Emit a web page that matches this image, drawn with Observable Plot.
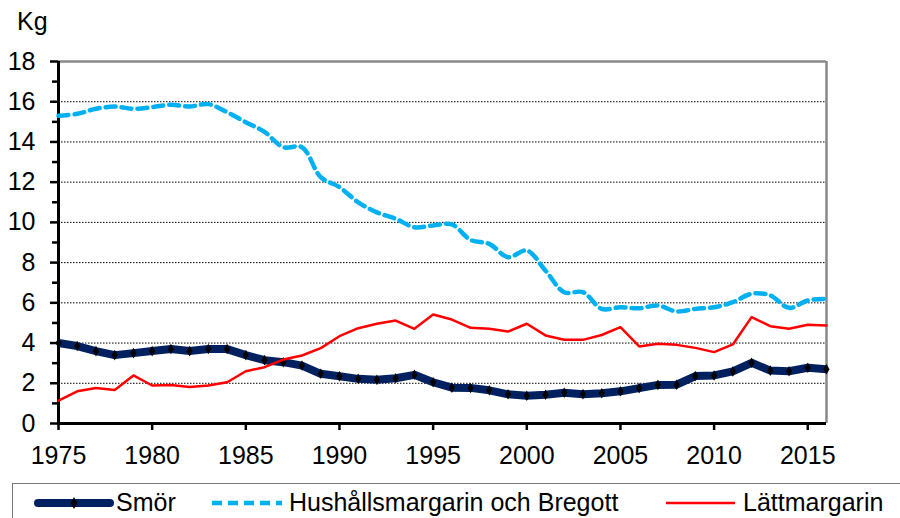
<!DOCTYPE html>
<html>
<head>
<meta charset="utf-8">
<script src="https://cdn.jsdelivr.net/npm/d3@7"></script>
<script src="https://cdn.jsdelivr.net/npm/@observablehq/plot@0.6"></script>
<style>
  body { margin: 0; background: #fff; font-family: "Liberation Sans", Arial, sans-serif; }
  #wrap { position: relative; width: 900px; height: 518px; overflow: hidden; }
  #kg { position: absolute; left: 17px; top: 9px; font-size: 25px; line-height: 25px; color: #000; }
  #legend { position: absolute; left: 12px; top: 483px; width: 1000px; height: 60px; border: 1.5px solid #777; box-sizing: border-box; }
  .lt { position: absolute; top: 490px; font-size: 25px; line-height: 25px; color: #000; white-space: nowrap; }
  .ls { position: absolute; top: 493px; }
</style>
</head>
<body>
<div id="wrap">
  <div id="chart"></div>
  <div id="kg">Kg</div>
  <div id="legend"></div>
</div>
<script>
const years = [1975,1976,1977,1978,1979,1980,1981,1982,1983,1984,1985,1986,1987,1988,1989,1990,1991,1992,1993,1994,1995,1996,1997,1998,1999,2000,2001,2002,2003,2004,2005,2006,2007,2008,2009,2010,2011,2012,2013,2014,2015,2016];
const smor = [4.0,3.85,3.6,3.4,3.5,3.6,3.7,3.6,3.7,3.7,3.4,3.15,3.05,2.88,2.47,2.35,2.22,2.17,2.25,2.42,2.05,1.78,1.77,1.65,1.45,1.38,1.43,1.53,1.46,1.5,1.6,1.76,1.92,1.93,2.36,2.39,2.59,3.02,2.63,2.6,2.77,2.7];
const hushall = [15.3,15.4,15.65,15.76,15.65,15.73,15.85,15.76,15.88,15.48,14.98,14.5,13.74,13.74,12.25,11.75,11.0,10.5,10.18,9.76,9.85,9.9,9.13,8.93,8.27,8.6,7.6,6.53,6.53,5.7,5.78,5.73,5.87,5.57,5.7,5.78,6.03,6.45,6.37,5.75,6.12,6.2];
const latt = [1.14,1.6,1.77,1.67,2.39,1.89,1.92,1.81,1.89,2.05,2.6,2.8,3.18,3.38,3.75,4.34,4.74,4.96,5.12,4.71,5.42,5.17,4.76,4.71,4.57,4.96,4.38,4.16,4.16,4.4,4.79,3.83,3.96,3.91,3.76,3.55,3.93,5.29,4.84,4.71,4.91,4.87];
const seriesNames = ["Smör", "Hushållsmargarin och Bregott", "Lättmargarin"];
const yTicks = [0,2,4,6,8,10,12,14,16,18];
const yMinorTicks = [1,3,5,7,9,11,13,15,17];
const yGrid = [2,4,6,8,10,12,14,16];
const xTicks = [1975,1980,1985,1990,1995,2000,2005,2010,2015];

const rows = (vals) => years.map((y, i) => ({year: y, value: vals[i]}));
const dSmor = rows(smor), dHush = rows(hushall), dLatt = rows(latt);

const chart = Plot.plot({
  width: 900,
  height: 470,
  marginLeft: 58,
  marginRight: 74,
  marginTop: 61,
  marginBottom: 47,
  style: {fontFamily: '"Liberation Sans", Arial, sans-serif', fontSize: "25px", color: "#000", background: "#fff"},
  x: {domain: [1975, 2016]},
  y: {domain: [0, 18]},
  marks: [
    Plot.ruleY(yGrid, {stroke: "#000", strokeWidth: 1, strokeDasharray: "1.5,1.5"}),
    Plot.ruleY([18], {stroke: "#888", strokeWidth: 2.5}),
    Plot.ruleX([2016], {stroke: "#888", strokeWidth: 2.5}),
    Plot.axisY({ticks: yTicks, tickSize: 8, tickPadding: 15, fontSize: 25, strokeWidth: 2.5, label: null, tickFormat: d => d}),
    Plot.axisY({ticks: yMinorTicks, tickSize: 6, text: null, strokeWidth: 2.5, label: null}),
    Plot.axisX({ticks: xTicks, tickSize: 7, tickPadding: 16, fontSize: 25, strokeWidth: 2.5, label: null, tickFormat: d => String(d)}),
    Plot.ruleX([1975], {stroke: "#000", strokeWidth: 3}),
    Plot.ruleY([0], {stroke: "#000", strokeWidth: 3}),
    Plot.line(dSmor, {x: "year", y: "value", stroke: "#002060", strokeWidth: 8, strokeLinejoin: "round", strokeLinecap: "butt"}),
    Plot.dot(dSmor, {x: "year", y: "value", symbol: "diamond", r: 3.2, fill: "#000", stroke: "none"}),
    Plot.line(dHush, {x: "year", y: "value", stroke: "#00B0F0", strokeWidth: 4.5, strokeDasharray: "10,6", curve: "catmull-rom"}),
    Plot.line(dLatt, {x: "year", y: "value", stroke: "#FF0000", strokeWidth: 2.5, strokeLinejoin: "round"})
  ]
});
document.getElementById("chart").appendChild(chart);

// Legend
const wrap = document.getElementById("wrap");
const legendItems = [
  {name: seriesNames[0], x1: 38, x2: 110, tx: 116, color: "#002060", w: 8, dash: null, marker: true},
  {name: seriesNames[1], x1: 212, x2: 282, tx: 289, color: "#00B0F0", w: 4.5, dash: "10,6", marker: false},
  {name: seriesNames[2], x1: 666, x2: 735, tx: 743, color: "#FF0000", w: 2.5, dash: null, marker: false}
];
legendItems.forEach(it => {
  const svg = d3.create("svg").attr("class", "ls")
    .attr("width", it.x2 - it.x1 + 10).attr("height", 20)
    .style("left", (it.x1 - 5) + "px");
  svg.append("line").attr("x1", 5).attr("x2", it.x2 - it.x1 + 5).attr("y1", 10).attr("y2", 10)
    .attr("stroke", it.color).attr("stroke-width", it.w)
    .attr("stroke-linecap", it.marker ? "round" : "butt")
    .attr("stroke-dasharray", it.dash);
  if (it.marker) {
    const cx = (it.x2 - it.x1) / 2 + 5;
    svg.append("path").attr("d", d3.symbol(d3.symbolDiamond, 40)()).attr("transform", `translate(${cx},10)`).attr("fill", "#000");
  }
  wrap.appendChild(svg.node());
  const t = document.createElement("div");
  t.className = "lt";
  t.style.left = it.tx + "px";
  t.textContent = it.name;
  wrap.appendChild(t);
});
</script>
</body>
</html>
